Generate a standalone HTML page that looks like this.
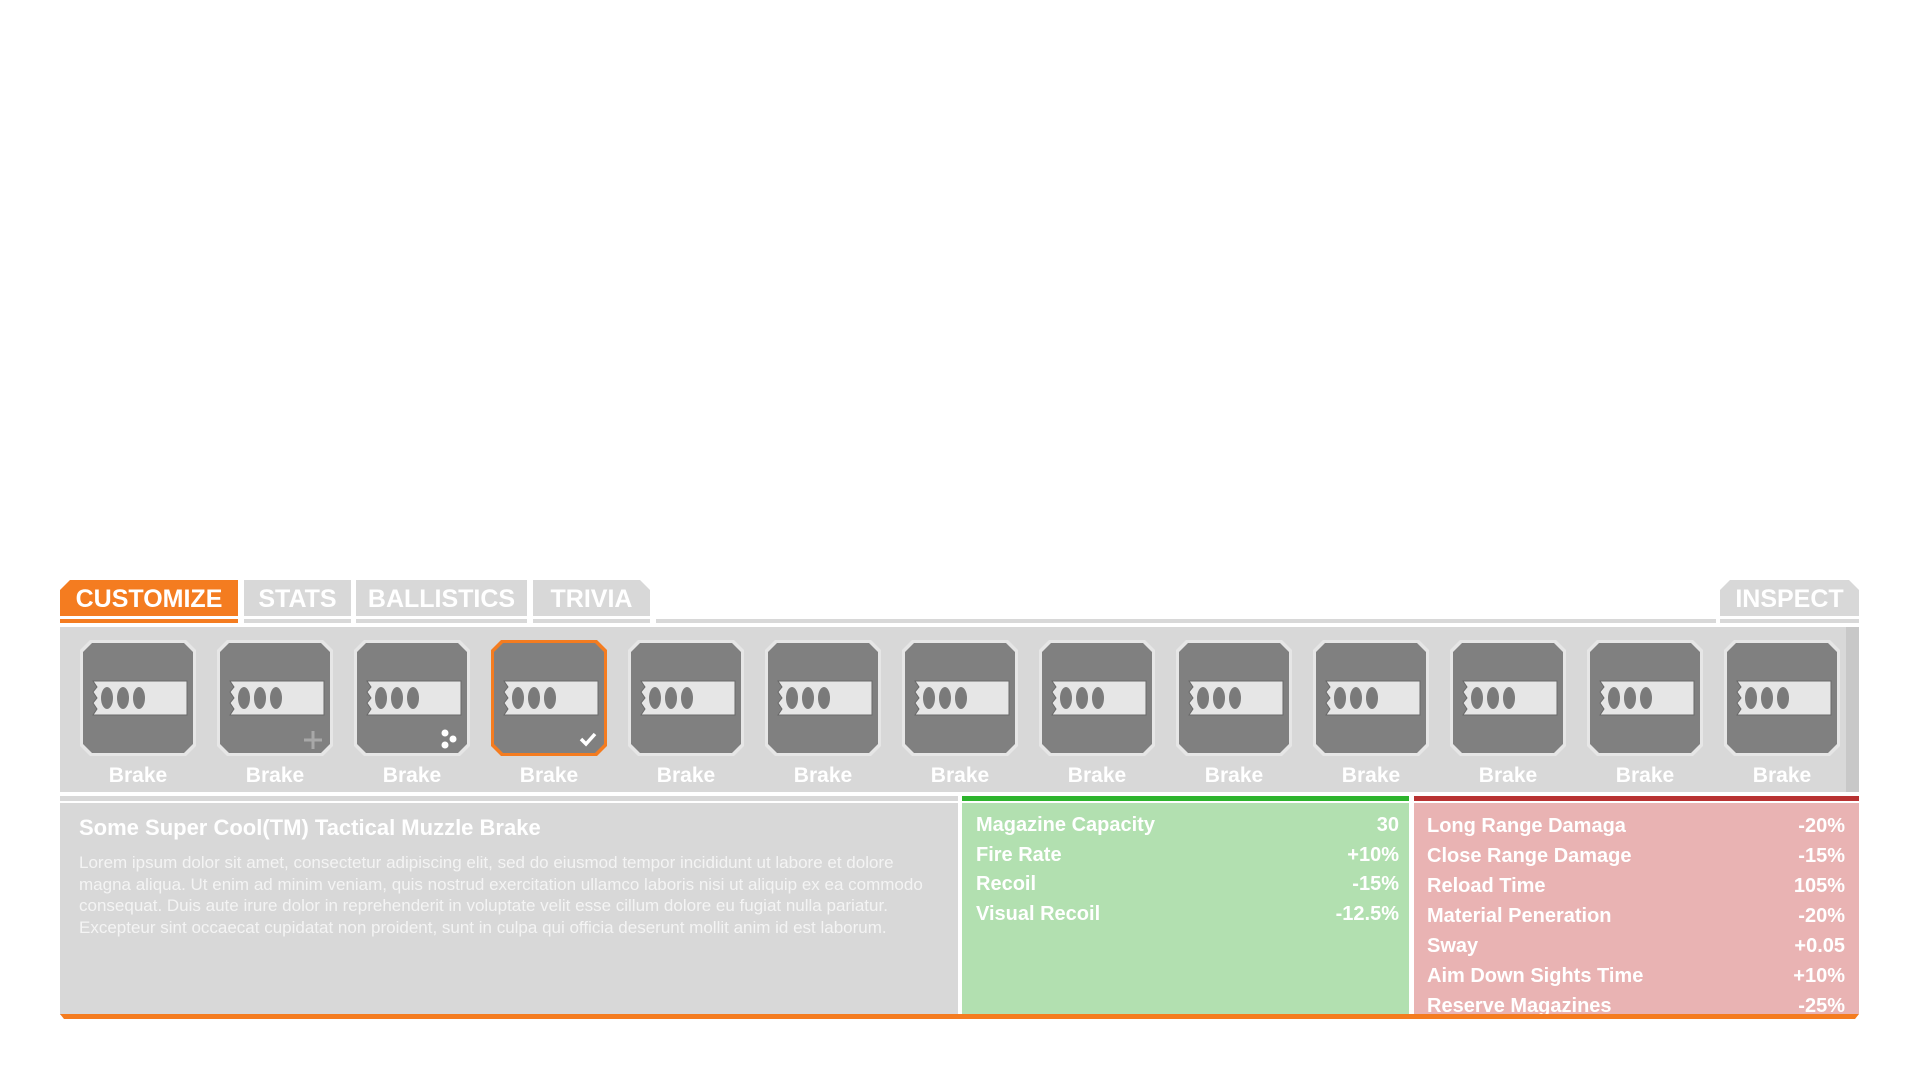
<!DOCTYPE html>
<html><head><meta charset="utf-8"><style>
*{margin:0;padding:0;box-sizing:border-box}
body{width:1920px;height:1080px;background:#fff;position:relative;overflow:hidden;font-family:"Liberation Sans Narrow","Liberation Sans",sans-serif;color:#fff}
.a{position:absolute}
.tab{position:absolute;top:580px;height:36px;background:#d8d8d8;font-size:25px;line-height:38px;text-align:center;font-weight:bold;color:#fff}
.ul{position:absolute;top:619px;height:4px;background:#d8d8d8}
.tile{position:absolute;top:640px;width:116px;height:116px;background:#e6e6e6;clip-path:polygon(10px 0,106px 0,116px 10px,116px 106px,106px 116px,10px 116px,0 106px,0 10px)}
.tile.sel{background:#f47c20}
.tile .in{position:absolute;left:3px;top:3px;width:110px;height:110px;background:#808080;clip-path:polygon(9px 0,101px 0,110px 9px,110px 101px,101px 110px,9px 110px,0 101px,0 9px)}
.lbl{position:absolute;top:764px;width:116px;text-align:center;font-size:21px;font-weight:bold;color:#fff}
.row{position:absolute;font-size:20px;font-weight:bold;color:#fff;height:30px;line-height:30px}
.row span{position:absolute;right:0}
</style></head><body>
<div class="tab" style="left:60px;width:178px;background:#f47c20;clip-path:polygon(10px 0,100% 0,100% 100%,0 100%,0 10px)">CUSTOMIZE</div>
<div class="tab" style="left:244px;width:107px">STATS</div>
<div class="tab" style="left:356px;width:171px">BALLISTICS</div>
<div class="tab" style="left:533px;width:117px;clip-path:polygon(0 0,calc(100% - 10px) 0,100% 10px,100% 100%,0 100%)">TRIVIA</div>
<div class="tab" style="left:1720px;width:139px;clip-path:polygon(10px 0,calc(100% - 10px) 0,100% 10px,100% 100%,0 100%,0 10px)">INSPECT</div>
<div class="ul" style="left:60px;width:178px;background:#f47c20"></div>
<div class="ul" style="left:244px;width:107px"></div>
<div class="ul" style="left:356px;width:171px"></div>
<div class="ul" style="left:533px;width:117px"></div>
<div class="ul" style="left:656px;width:1060px"></div>
<div class="ul" style="left:1720px;width:139px"></div>
<div class="a" style="left:60px;top:627px;width:1799px;height:165px;background:#d8d8d8"></div>
<div class="a" style="left:1846px;top:627px;width:13px;height:165px;background:#c8c8c8"></div>
<div id="tiles"></div>
<div class="a" style="left:60px;top:796px;width:898px;height:5px;background:#d8d8d8"></div>
<div class="a" style="left:962px;top:796px;width:447px;height:5px;background:#2db42d"></div>
<div class="a" style="left:1414px;top:796px;width:445px;height:5px;background:#b83232"></div>
<div class="a" style="left:60px;top:803px;width:898px;height:212px;background:#d8d8d8"></div>
<div class="a" style="left:962px;top:803px;width:447px;height:212px;background:#b2e0b0"></div>
<div class="a" style="left:1414px;top:803px;width:445px;height:211px;background:#e9b3b3;overflow:hidden" id="red"></div>
<div class="a" style="left:60px;top:1014px;width:1799px;height:5px;background:#f47c20;clip-path:polygon(0 0,100% 0,calc(100% - 4px) 100%,4px 100%)"></div>
<div class="a" style="left:79px;top:815px;font-size:22px;font-weight:bold">Some Super Cool(TM) Tactical Muzzle Brake</div>
<div class="a" style="left:79px;top:852px;width:870px;font-size:17px;line-height:21.7px;color:#f4f4f4">Lorem ipsum dolor sit amet, consectetur adipiscing elit, sed do eiusmod tempor incididunt ut labore et dolore magna aliqua. Ut enim ad minim veniam, quis nostrud exercitation ullamco laboris nisi ut aliquip ex ea commodo consequat. Duis aute irure dolor in reprehenderit in voluptate velit esse cillum dolore eu fugiat nulla pariatur. Excepteur sint occaecat cupidatat non proident, sunt in culpa qui officia deserunt mollit anim id est laborum.</div>
<div class="row" style="left:976px;top:810px;width:423px">Magazine Capacity<span>30</span></div>
<div class="row" style="left:976px;top:840px;width:423px">Fire Rate<span>+10%</span></div>
<div class="row" style="left:976px;top:869px;width:423px">Recoil<span>-15%</span></div>
<div class="row" style="left:976px;top:899px;width:423px">Visual Recoil<span>-12.5%</span></div>
<script>
var h='';
for(var i=0;i<13;i++){var x=80+i*137;
h+='<div class="tile'+(i==3?' sel':'')+'" style="left:'+x+'px"><div class="in"><svg width="110" height="110" style="position:absolute;left:0;top:0">'+
'<path d="M10 38 L104 38 L104 72 L10 72 L14 66 L10 60 L14 55 L10 49 L14 44 Z" fill="#e6e6e6" stroke="#6a6a6a" stroke-width="1"/>'+
'<ellipse cx="24" cy="55" rx="6" ry="11" fill="#7a7a7a"/><ellipse cx="40" cy="55" rx="6" ry="11" fill="#7a7a7a"/><ellipse cx="56" cy="55" rx="6" ry="11" fill="#7a7a7a"/>'+
(i==1?'<path d="M93 88v18M84 97h18" stroke="#a8a8a8" stroke-width="3"/>':'')+
(i==2?'<circle cx="88" cy="90" r="3.5" fill="#fff"/><circle cx="96" cy="96" r="3.5" fill="#fff"/><circle cx="88" cy="102" r="3.5" fill="#fff"/>':'')+
(i==3?'<path d="M87 96l5 5 9-10" stroke="#fff" stroke-width="3.5" fill="none"/>':'')+
'</svg></div></div><div class="lbl" style="left:'+x+'px">Brake</div>';}
document.getElementById('tiles').innerHTML=h;
var r=[["Long Range Damaga","-20%"],["Close Range Damage","-15%"],["Reload Time","105%"],["Material Peneration","-20%"],["Sway","+0.05"],["Aim Down Sights Time","+10%"],["Reserve Magazines","-25%"]];
var s='';for(var j=0;j<r.length;j++){s+='<div class="row" style="left:13px;top:'+(8+j*30)+'px;width:418px">'+r[j][0]+'<span>'+r[j][1]+'</span></div>';}
document.getElementById('red').innerHTML=s;
</script>
</body></html>
